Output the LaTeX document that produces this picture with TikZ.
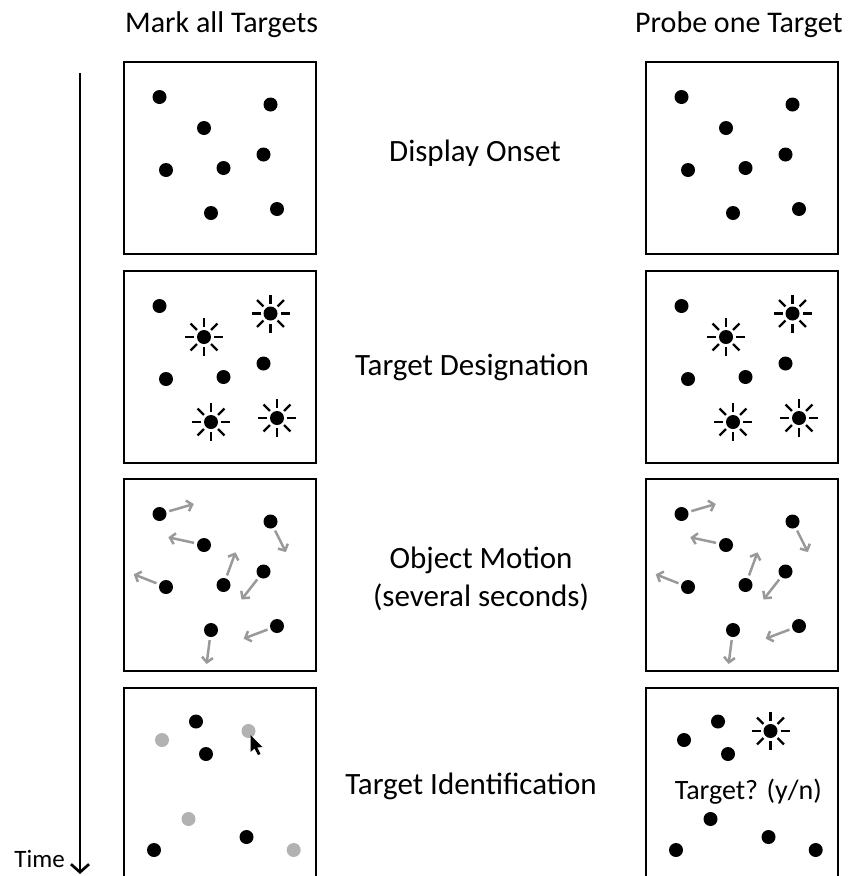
\documentclass[tikz,border=0pt]{standalone}
\usepackage{fontspec}
\setmainfont{Carlito}
\usetikzlibrary{arrows.meta,calc,positioning}

\newcommand{\sparkle}[1]{%
  \foreach \a in {0,45,...,315}
    \draw[ray] ($(#1)+(\a:10)$) -- ($(#1)+(\a:19)$);}

\begin{document}
\begin{tikzpicture}[x=1pt,y=-1pt,
    panel/.style={draw, line width=2.5pt, anchor=north west, inner sep=0pt, outer sep=0pt,
      minimum width=192pt, minimum height=192pt},
    dot/.style={circle, fill=black, inner sep=0pt, minimum size=14pt},
    gdot/.style={dot, fill=black!30},
    ray/.style={line width=2.4pt},
    mv/.style={draw=black!40, line width=2.5pt, shorten <=3pt, -{Straight Barb[length=5pt,width=11pt]}},
    lbl/.style={font=\fontsize{31}{38}\selectfont, align=center, inner sep=0pt}]
    \useasboundingbox (0,0) rectangle (848,876);
    \foreach \c/\cx in {L/124,R/646}{
      \node[panel] (onset\c) at (\cx,62) {};
      \node[panel] (desig\c) at (\cx,271) {};
      \node[panel] (motion\c) at (\cx,479) {};
      \node[panel, minimum height=200pt] (ident\c) at (\cx,688) {};
      \foreach \i/\x/\y in {1/35.5/35, 2/146.5/42.5, 3/80/66, 4/139.5/92.5,
                            5/42/108, 6/99.5/106, 7/87/151, 8/153/147}{
        \node[dot] (on\c\i) at ($(onset\c.north west)+(\x,\y)$) {};
        \node[dot] (de\c\i) at ($(desig\c.north west)+(\x,\y)$) {};
        \node[dot] (mo\c\i) at ($(motion\c.north west)+(\x,\y)$) {};
      }
      \foreach \i in {2,3,7,8}{\sparkle{de\c\i}}
      \foreach \i/\dx/\dy in {1/34.3/-10, 2/15.4/30.6, 3/-35.7/-7.7, 4/-22/28,
                              5/-32.3/-12.7, 6/12/-32.7, 7/-4.4/34, 8/-33.3/12.6}{
        \coordinate (to\c\i) at ($(mo\c\i)+(\dx,\dy)$);
        \draw[mv] (mo\c\i) -- (to\c\i);
      }
    }
    \foreach \i/\x/\y/\s in {1/72/33.5/dot, 2/38/52/gdot, 3/82/66/dot, 4/124.5/43/gdot,
                             5/64.5/131/gdot, 6/122.5/149/dot, 7/30/162/dot, 8/169.7/162/gdot}
      \node[\s] (idL\i) at ($(identL.north west)+(\x,\y)$) {};
    \foreach \i/\x/\y in {1/72/33.5, 2/38/52, 3/82/66, 4/124.5/43,
                          5/64.5/131, 6/122.5/149, 7/30/162, 8/169.7/162}
      \node[dot] (idR\i) at ($(identR.north west)+(\x,\y)$) {};
    \sparkle{idR4}
    \coordinate (tip) at ($(idL4)+(2,4)$);
    \fill[shift={(tip)}] (0,0) -- (0,17) -- (4,13.5) -- (7.5,20) -- (10,19) -- (6.8,12.5) -- (12,12) -- cycle;
    \node[lbl, font=\fontsize{28}{32}\selectfont] (yesno) at ($(identR.north west)+(102.3,104)$) {Target? (y/n)};

    \node[lbl, font=\fontsize{30}{36}\selectfont, anchor=base west] (markall) at (125,32) {Mark all Targets};
    \node[lbl, font=\fontsize{30}{36}\selectfont, anchor=base west] (probeone) at (635,32) {Probe one Target};
    \node[lbl] (onset) at ($(onsetL.east)!.5!(onsetR.west)+(-6,-5)$) {Display Onset};
    \node[lbl] (desig) at ($(desigL.east)!.5!(desigR.west)+(-9,0)$) {Target Designation};
    \node[lbl] (motion) at ($(motionL.east)!.5!(motionR.west)+(0,4)$) {Object Motion\\(several seconds)};
    \node[lbl] (ident) at ($(identL.north east)!.5!(identR.north west)+(-10,98)$) {Target Identification};

    \coordinate (tstart) at (80,73);
    \coordinate (tend) at (80,874);
    \draw[line width=2.7pt, -{Straight Barb[length=8pt,width=18pt]}] (tstart) -- (tend);
    \node[anchor=base east, inner sep=0pt, font=\fontsize{25}{30}\selectfont] (time) at (65,867) {Time};
\end{tikzpicture}
\end{document}
